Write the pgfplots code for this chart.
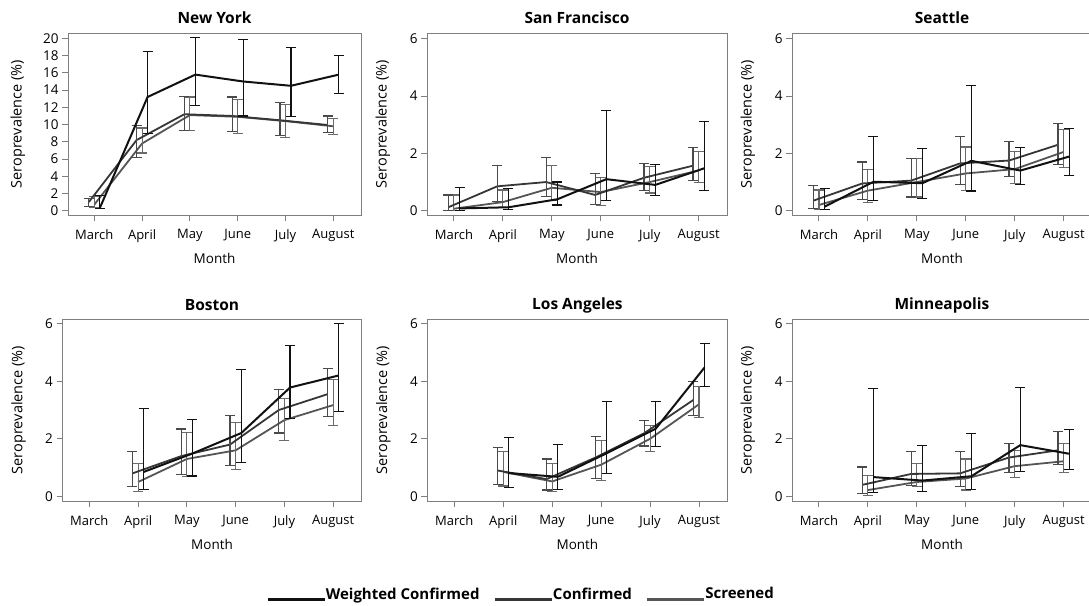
\documentclass[border=0pt]{standalone}
\usepackage{fontspec}
\setmainfont{Open Sans}
\usepackage{graphicx}
\usepackage{pgfplots}
\usepackage{pgfplotstable}
\pgfplotsset{compat=1.18}

\definecolor{wcol}{HTML}{111111}
\definecolor{ccol}{HTML}{363636}
\definecolor{scol}{HTML}{555555}
\definecolor{cerr}{HTML}{4A4A4A}
\definecolor{serr}{HTML}{6A6A6A}
\definecolor{axgray}{HTML}{7F7F7F}

% m = month index (0 March ... 5 August); W = weighted confirmed, C = confirmed, S = screened
\pgfplotstableread{
m Wy Wlo Whi Cy Clo Chi Sy Slo Shi
0 0.30 0.25 1.80 1.00 0.47 1.43 0.70 0.35 1.60
1 13.2 9.00 18.5 8.20 6.20 9.90 7.80 6.70 9.60
2 15.8 12.2 20.1 11.2 9.30 13.3 11.1 9.30 13.2
3 15.0 11.0 19.9 11.0 9.20 13.2 10.9 9.00 12.9
4 14.5 10.9 18.95 10.5 8.70 12.55 10.4 8.50 12.3
5 15.8 13.65 18.0 9.95 9.07 11.0 9.80 8.80 10.7
}\tabNY
\pgfplotstableread{
m Wy Wlo Whi Cy Clo Chi Sy Slo Shi
0 0.08 0.02 0.82 0.12 0.00 0.55 0.07 0.00 0.55
1 0.12 0.03 0.78 0.85 0.33 1.57 0.30 0.12 0.72
2 0.40 0.20 1.00 1.00 0.50 1.85 0.80 0.35 1.58
3 1.10 0.35 3.50 0.55 0.23 1.30 0.65 0.17 1.15
4 0.90 0.52 1.62 1.15 0.70 1.65 1.00 0.62 1.55
5 1.48 0.70 3.11 1.57 1.05 2.20 1.40 0.98 2.07
}\tabSF
\pgfplotstableread{
m Wy Wlo Whi Cy Clo Chi Sy Slo Shi
0 0.14 0.05 0.78 0.35 0.07 0.87 0.20 0.03 0.72
1 1.01 0.37 2.60 0.95 0.40 1.70 0.70 0.28 1.43
2 0.96 0.43 2.17 1.05 0.48 1.82 1.00 0.48 1.82
3 1.74 0.69 4.36 1.65 0.92 2.58 1.30 0.70 2.22
4 1.40 0.90 2.20 1.75 1.20 2.42 1.45 0.95 2.08
5 1.89 1.22 2.88 2.30 1.60 3.04 2.05 1.50 2.82
}\tabSEA
\pgfplotstableread{
m Wy Wlo Whi Cy Clo Chi Sy Slo Shi
1 0.85 0.24 3.06 0.80 0.35 1.57 0.50 0.17 1.15
2 1.49 0.71 2.67 1.40 0.77 2.34 1.30 0.68 2.22
3 2.20 1.17 4.40 1.80 1.07 2.82 1.60 0.92 2.58
4 3.78 2.71 5.23 3.00 2.20 3.72 2.65 1.95 3.40
5 4.20 2.94 6.00 3.55 2.78 4.45 3.17 2.47 4.05
}\tabBOS
\pgfplotstableread{
m Wy Wlo Whi Cy Clo Chi Sy Slo Shi
1 0.81 0.30 2.04 0.90 0.41 1.70 0.85 0.36 1.57
2 0.68 0.24 1.81 0.60 0.22 1.30 0.52 0.18 1.15
3 1.50 0.79 3.31 1.35 0.62 2.08 1.10 0.55 1.95
4 2.35 1.72 3.31 2.20 1.75 2.65 2.00 1.57 2.45
5 4.48 3.81 5.30 3.35 2.82 3.98 3.20 2.73 3.82
}\tabLA
\pgfplotstableread{
m Wy Wlo Whi Cy Clo Chi Sy Slo Shi
1 0.67 0.15 3.74 0.40 0.10 1.02 0.22 0.02 0.72
2 0.55 0.17 1.76 0.78 0.38 1.57 0.50 0.35 1.15
3 0.70 0.23 2.17 0.80 0.35 1.57 0.62 0.22 1.30
4 1.78 0.85 3.78 1.35 0.82 1.85 1.05 0.65 1.58
5 1.48 0.93 2.33 1.60 1.10 2.25 1.22 0.82 1.83
}\tabMIN

\pgfplotsset{
  panel/.style={
    scale only axis, width=300pt, height=182pt,
    xmin=-0.55, xmax=5.58, ymin=-0.16, ymax=6.16,
    xtick={0,...,5}, xticklabels={March,April,May,June,July,August},
    ytick={0,2,4,6},
    tick align=outside, tick pos=left, major tick length=6pt,
    axis line style={draw=axgray, line width=0.9pt},
    tick style={draw=axgray, line width=0.9pt},
    xticklabel style={font=\fontsize{13}{15}\selectfont, yshift=-5pt},
    yticklabel style={font=\fontsize{13.5}{15}\selectfont},
    /pgf/number format/assume math mode=true,
    xlabel={Month},
    ylabel={Seroprevalence (\%)},
    xlabel style={font=\fontsize{13.5}{16}\selectfont, at={(axis description cs:0.5,-0.236)}, anchor=center},
    ylabel style={font=\fontsize{14.5}{16}\selectfont, at={(axis description cs:-0.147,0.5)}, anchor=center, rotate=0},
    title style={font=\fontsize{15.5}{18}\selectfont\bfseries, at={(axis description cs:0.5,1)}, anchor=center, yshift=9pt},
    clip=false,
  },
}

\newcommand{\series}[6]{% table, prefix, color, offset, line width, error colour
  \addplot[#3, line width=#5, forget plot,
    error bars/.cd, y dir=both, y explicit,
    error bar style={#6, line width=1.15pt},
    error mark options={rotate=90, mark size=5pt, #6, line width=1.15pt}]
    table[x expr=\thisrow{m}+#4, y=#2y,
      y error plus expr=\thisrow{#2hi}-\thisrow{#2y},
      y error minus expr=\thisrow{#2y}-\thisrow{#2lo}] {#1};
}
\newcommand{\trio}[1]{%
  \series{#1}{S}{scol}{0}{1.8pt}{serr}
  \series{#1}{C}{ccol}{-0.115}{1.8pt}{cerr}
  \series{#1}{W}{wcol}{0.115}{2pt}{wcol}
}

\begin{document}
\begin{tikzpicture}
\path[use as bounding box] (0pt,0pt) rectangle (1089pt,-605pt);

\begin{axis}[panel, at={(68pt,-215pt)}, anchor=south west, width=293pt,
  ymin=-0.5, ymax=20.63, ytick={0,2,...,20},
  ylabel style={at={(axis description cs:-0.171,0.5)}},
  title={New York}]
\trio{\tabNY}
\end{axis}

\begin{axis}[panel, at={(427pt,-215pt)}, anchor=south west,
  ymin=-0.15, ymax=6.2, title={San Francisco}]
\trio{\tabSF}
\end{axis}

\begin{axis}[panel, at={(792pt,-215pt)}, anchor=south west,
  ymin=-0.15, ymax=6.2, title={Seattle}]
\trio{\tabSEA}
\end{axis}

\begin{axis}[panel, at={(62.5pt,-501pt)}, anchor=south west, width=299pt,
  title={Boston}, title style={yshift=-1pt}]
\trio{\tabBOS}
\end{axis}

\begin{axis}[panel, at={(427.4pt,-501pt)}, anchor=south west,
  title={Los Angeles}, title style={yshift=-1pt},
  legend columns=3,
  legend style={at={(axis description cs:0.309,-0.511)}, anchor=center,
    draw=none, fill=none, inner sep=0pt,
    font=\fontsize{15}{18}\selectfont\bfseries,
    nodes={inner xsep=0pt},
    /tikz/every even column/.append style={column sep=14pt}},
  legend image code/.code={\draw[#1, line width=2.4pt] (0pt,-5.5pt) -- (57pt,-5.5pt);}]
\trio{\tabLA}
\addlegendimage{wcol}
\addlegendentry{Weighted Confirmed}
\addlegendimage{ccol}
\addlegendentry{Confirmed}
\addlegendimage{scol}
\addlegendentry{Screened}
\end{axis}

\begin{axis}[panel, at={(792pt,-501pt)}, anchor=south west,
  title={Minneapolis}, title style={yshift=-1pt}]
\trio{\tabMIN}
\end{axis}
\end{tikzpicture}
\end{document}
